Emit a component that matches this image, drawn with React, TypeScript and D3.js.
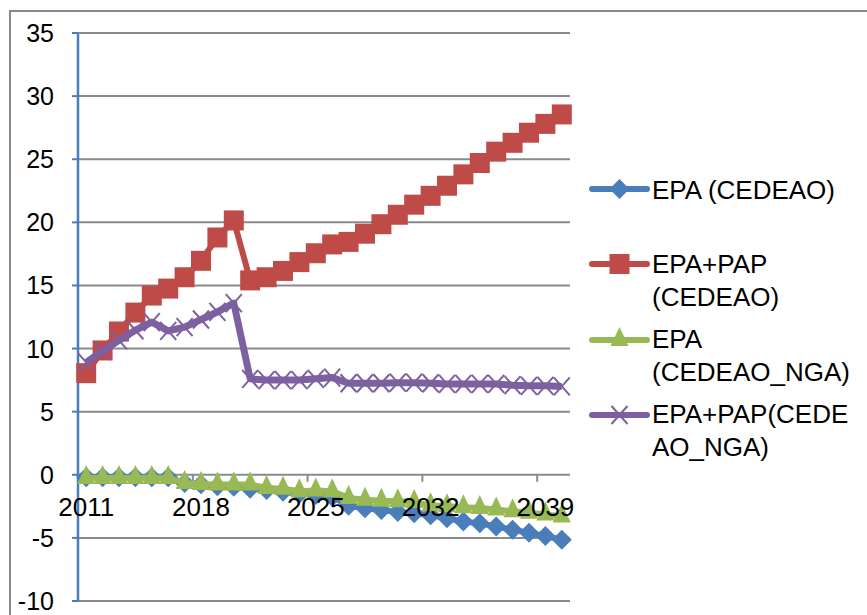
import * as d3 from 'd3';

const years = d3.range(2011, 2041).map(String);
const yTicks = [-10, -5, 0, 5, 10, 15, 20, 25, 30, 35];
const xLabelYears = ['2011', '2018', '2025', '2032', '2039'];

const epaCedeao = [
  -0.2, -0.2, -0.2, -0.2, -0.2, -0.2, -0.65, -0.75, -0.9, -0.95,
  -1.1, -1.2, -1.35, -1.5, -1.6, -1.75, -2.45, -2.65, -2.8, -2.95,
  -3.05, -3.2, -3.45, -3.7, -3.85, -4.1, -4.35, -4.6, -4.85, -5.15,
];
const epaPapCedeao = [
  8.05, 9.85, 11.35, 12.85, 14.2, 14.75, 15.65, 16.95, 18.8, 20.15,
  15.4, 15.65, 16.15, 16.85, 17.55, 18.25, 18.45, 19.1, 19.85, 20.6,
  21.4, 22.1, 22.9, 23.8, 24.7, 25.6, 26.3, 27.1, 27.8, 28.55,
];
const epaNga = [
  -0.25, -0.25, -0.25, -0.25, -0.25, -0.25, -0.65, -0.73, -0.78, -0.78,
  -0.78, -1.05, -1.1, -1.3, -1.25, -1.3, -1.83, -1.97, -2.05, -2.1,
  -2.15, -2.42, -2.5, -2.57, -2.63, -2.75, -2.89, -3.0, -3.15, -3.3,
];
const epaPapNga = [
  8.9, 9.8, 10.65, 11.45, 12.1, 11.4, 11.7, 12.3, 12.9, 13.6,
  7.6, 7.5, 7.5, 7.5, 7.6, 7.7, 7.25, 7.25, 7.25, 7.3,
  7.3, 7.25, 7.2, 7.2, 7.2, 7.2, 7.1, 7.05, 7.05, 7.0,
];

type Marker = 'diamond' | 'square' | 'triangle' | 'x';

const series: { name: string[]; values: number[]; color: string; marker: Marker }[] = [
  { name: ['EPA (CEDEAO)'], values: epaCedeao, color: '#4A7EBB', marker: 'diamond' },
  { name: ['EPA+PAP', '(CEDEAO)'], values: epaPapCedeao, color: '#BE4B48', marker: 'square' },
  { name: ['EPA', '(CEDEAO_NGA)'], values: epaNga, color: '#98B954', marker: 'triangle' },
  { name: ['EPA+PAP(CEDE', 'AO_NGA)'], values: epaPapNga, color: '#7D60A0', marker: 'x' },
];

const WIDTH = 867;
const HEIGHT = 615;
const LEFT = 78;
const RIGHT = 570;
const TOP = 33;
const BOTTOM = 601;
const FONT = '"Liberation Sans", Arial, sans-serif';

function MarkerShape({ type, color, cx, cy }: { type: Marker; color: string; cx: number; cy: number }) {
  if (type === 'diamond') {
    return <path d={`M${cx},${cy - 10}L${cx + 10},${cy}L${cx},${cy + 10}L${cx - 10},${cy}Z`} fill={color} />;
  }
  if (type === 'square') {
    return <rect x={cx - 10} y={cy - 10} width={20} height={20} fill={color} />;
  }
  if (type === 'triangle') {
    return <path d={`M${cx},${cy - 13}L${cx + 9},${cy + 6}L${cx - 9},${cy + 6}Z`} fill={color} />;
  }
  return (
    <path
      d={`M${cx - 8},${cy - 9}L${cx + 8},${cy + 9}M${cx - 8},${cy + 9}L${cx + 8},${cy - 9}`}
      stroke={color}
      strokeWidth={2}
      fill="none"
    />
  );
}

export default function App() {
  const x = d3.scaleBand<string>().domain(years).range([LEFT, RIGHT]).padding(0);
  const y = d3.scaleLinear().domain([-10, 35]).range([BOTTOM, TOP]);
  const cx = (yr: string) => (x(yr) ?? 0) + x.bandwidth() / 2;

  const line = d3
    .line<number>()
    .x((_, i) => cx(years[i]))
    .y((d) => y(d));

  const legendRows = [
    { baseline: 199, lineY: 189 },
    { baseline: 273, lineY: 264 },
    { baseline: 348, lineY: 340 },
    { baseline: 423, lineY: 415 },
  ];

  return (
    <svg
      width={WIDTH}
      height={HEIGHT}
      style={{ position: 'absolute', left: 0, top: 0, background: '#fff' }}
      fontFamily={FONT}
    >
      <rect x={10} y={11} width={900} height={700} fill="#fff" stroke="#898989" strokeWidth={2} />

      {yTicks.map((t) => (
        <g key={t}>
          {t !== 0 && (
            <line x1={LEFT} x2={RIGHT} y1={y(t)} y2={y(t)} stroke="#8A8A8A" strokeWidth={2} />
          )}
          <line x1={LEFT - 6} x2={LEFT} y1={y(t)} y2={y(t)} stroke="#4A7EBB" strokeWidth={2} />
          <text x={54} y={y(t) + 9} fontSize={25} textAnchor="end" fill="#000">
            {t}
          </text>
        </g>
      ))}

      <line x1={LEFT} x2={RIGHT} y1={y(0)} y2={y(0)} stroke="#8A8A8A" strokeWidth={2} />
      {xLabelYears.map((yr) => (
        <line
          key={`t${yr}`}
          x1={x(yr)}
          x2={x(yr)}
          y1={y(0)}
          y2={y(0) + 7}
          stroke="#8A8A8A"
          strokeWidth={2}
        />
      ))}
      <line x1={LEFT} x2={LEFT} y1={TOP} y2={BOTTOM} stroke="#4A7EBB" strokeWidth={2.5} />

      {series.map((s) => (
        <g key={s.name.join('')}>
          <path
            d={line(s.values) ?? ''}
            fill="none"
            stroke={s.color}
            strokeWidth={s.marker === 'x' ? 7 : 6}
            strokeLinejoin="round"
          />
          {s.values.map((v, i) => (
            <MarkerShape key={i} type={s.marker} color={s.color} cx={cx(years[i])} cy={y(v)} />
          ))}
        </g>
      ))}

      {xLabelYears.map((yr) => (
        <text key={yr} x={cx(yr)} y={516} fontSize={26} textAnchor="middle" fill="#000">
          {yr}
        </text>
      ))}

      {series.map((s, k) => {
        const row = legendRows[k];
        return (
          <g key={`lg${k}`}>
            <line x1={592} x2={647} y1={row.lineY} y2={row.lineY} stroke={s.color} strokeWidth={6} strokeLinecap="round" />
            <MarkerShape type={s.marker} color={s.color} cx={619.5} cy={row.lineY} />
            {s.name.map((ln, j) => (
              <text key={j} x={652} y={row.baseline + j * 33} fontSize={26} fill="#000">
                {ln}
              </text>
            ))}
          </g>
        );
      })}
    </svg>
  );
}
